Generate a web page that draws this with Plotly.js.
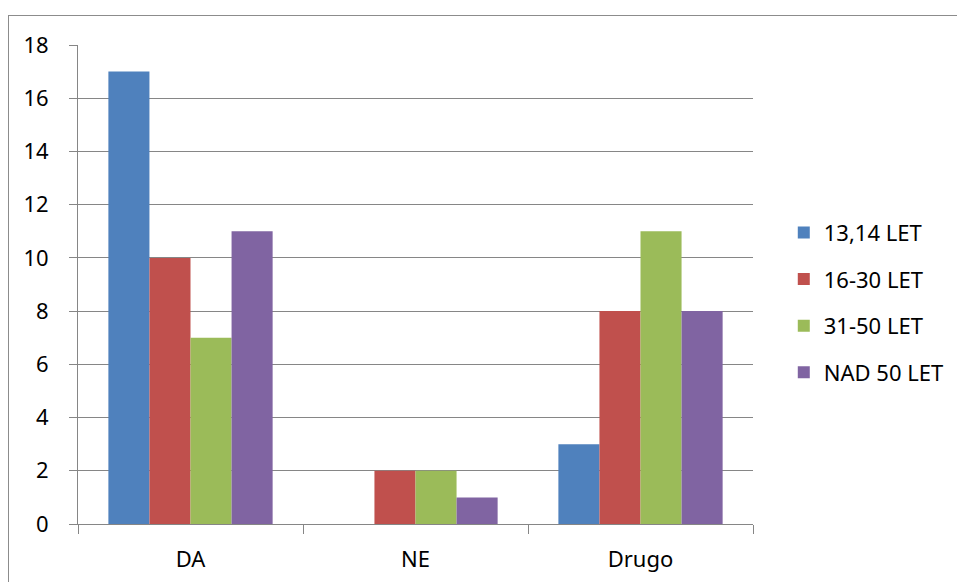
<!DOCTYPE html>
<html>
<head>
<meta charset="utf-8">
<script src="https://cdn.plot.ly/plotly-3.0.1.min.js"></script>
<style>
html,body{margin:0;padding:0;background:#fff;}
#wrap{position:relative;width:957px;height:582px;overflow:hidden;}
#frame{position:absolute;left:8px;top:15px;width:2000px;height:2000px;border-left:1px solid #8c8c8c;border-top:1px solid #8c8c8c;pointer-events:none;z-index:5;}
#chart{position:absolute;left:0;top:0;width:957px;height:582px;}
</style>
</head>
<body>
<div id="wrap">
<div id="chart"></div>
<div id="frame"></div>
</div>
<script>
const categories = ["DA", "NE", "Drugo"];
const seriesNames = ["13,14 LET", "16-30 LET", "31-50 LET", "NAD 50 LET"];
const s1 = [17, 0, 3];
const s2 = [10, 2, 8];
const s3 = [7, 2, 11];
const s4 = [11, 1, 8];
const yTicks = [0, 2, 4, 6, 8, 10, 12, 14, 16, 18];
const colors = ["#4F81BD", "#C0504D", "#9BBB59", "#8064A2"];

const allSeries = [s1, s2, s3, s4];
const traces = allSeries.map((vals, i) => ({
  type: "bar",
  x: categories,
  y: vals,
  name: seriesNames[i],
  legendgroup: "g" + i,
  marker: {color: colors[i], line: {width: 0}},
  hoverinfo: "none"
}));

const font = {family: "Noto Sans, Open Sans, sans-serif", size: 22, color: "#000"};

const layout = {
  width: 957,
  height: 582,
  margin: {l: 78, r: 204, t: 45, b: 58, pad: 0, autoexpand: false},
  paper_bgcolor: "#fff",
  plot_bgcolor: "#fff",
  barmode: "group",
  bargap: 0.27,
  bargroupgap: 0,
  font: font,
  showlegend: true,
  legend: {
    xref: "container", yref: "container",
    x: 0.819, xanchor: "left",
    y: 0.48, yanchor: "middle",
    traceorder: "grouped",
    tracegroupgap: 15,
    font: {family: font.family, size: 22, color: "#000"},
    itemwidth: 30
  },
  xaxis: {
    type: "category",
    tickson: "boundaries",
    ticks: "outside",
    ticklen: 9,
    tickcolor: "#868686",
    tickwidth: 1,
    showline: true,
    linecolor: "#868686",
    linewidth: 1,
    showgrid: false,
    tickfont: font,
    ticklabelstandoff: 16,
    automargin: false,
    fixedrange: true
  },
  yaxis: {
    range: [0, 18],
    tickvals: yTicks,
    ticktext: yTicks.map(String),
    ticks: "outside",
    ticklen: 8,
    tickcolor: "#868686",
    showline: true,
    linecolor: "#868686",
    showgrid: true,
    gridcolor: "#868686",
    gridwidth: 1,
    zeroline: false,
    tickfont: font,
    ticklabelstandoff: 16,
    automargin: false,
    fixedrange: true
  }
};

Plotly.newPlot("chart", traces, layout, {displayModeBar: false, staticPlot: true});
</script>
</body>
</html>
